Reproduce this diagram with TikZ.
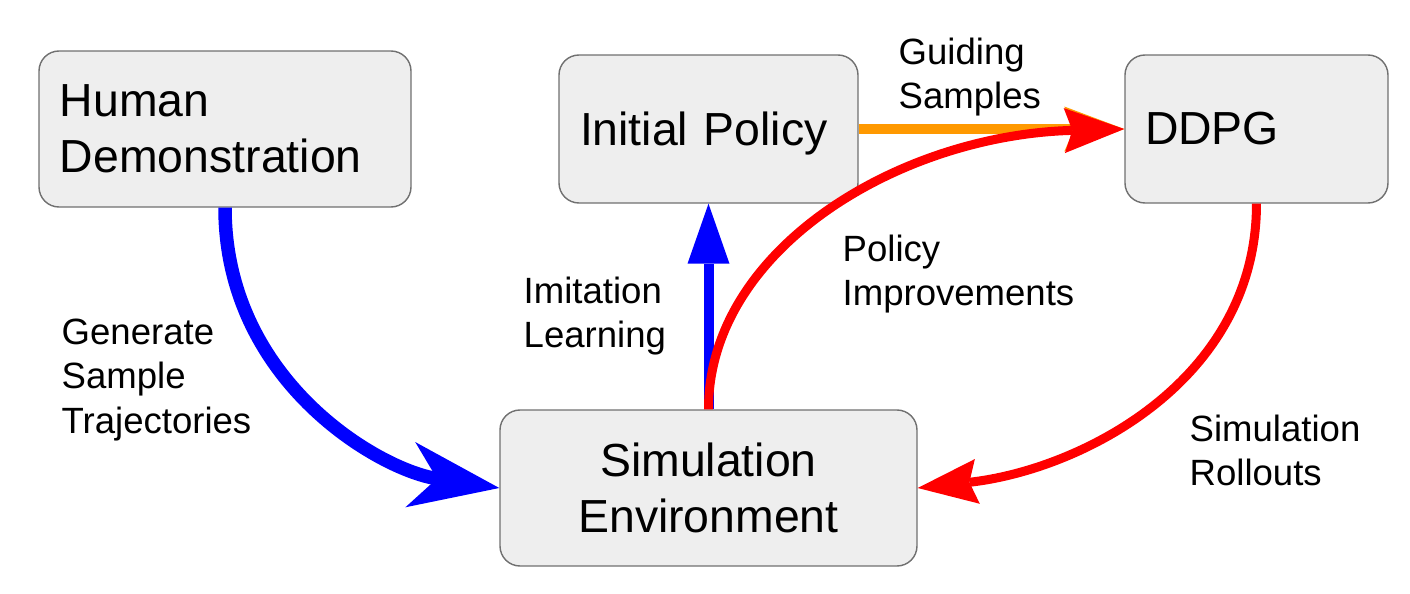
\documentclass[tikz,border=0pt]{standalone}
\usepackage{fontspec}
\setmainfont{Liberation Sans}
\usepackage{tikz}
\usetikzlibrary{arrows.meta, positioning}
\definecolor{boxfill}{HTML}{EEEEEE}
\definecolor{boxline}{HTML}{707070}
\definecolor{guideorange}{HTML}{FF9900}

\begin{document}
\begin{tikzpicture}[node distance=2cm,
  box/.style={draw=boxline, fill=boxfill, rounded corners=0.2cm, line width=0.4pt, font=\fontsize{13.2}{15.9}\selectfont},
  lbl/.style={anchor=north west, inner sep=0pt, align=left, font=\fontsize{10.4}{12.7}\selectfont},
  demo/.style={line width=0.135cm, blue, -{Stealth[length=0.9cm, width=0.66cm, inset=0.27cm, line width=0pt]}},
  imit/.style={line width=0.1cm, blue, -{Triangle[length=0.6cm, width=0.42cm, line width=0pt]}},
  guide/.style={line width=0.095cm, guideorange, -{Stealth[length=0.6cm, width=0.45cm, inset=0.1cm, line width=0pt]}},
  loopred/.style={line width=0.09cm, red, -{Stealth[length=0.6cm, width=0.45cm, inset=0.08cm, line width=0pt]}}
]
\useasboundingbox (0,0) rectangle (14.1,5.94);

\node (HD) [box, text width=3.30cm, align=left, inner xsep=0.21cm, minimum height=1.56cm] at (2.25,4.65) {Human\\Demonstration};
\node (IP) [right of=HD, xshift=2.835cm, box, text width=2.57cm, align=left, inner xsep=0.21cm, minimum height=1.48cm] {\raisebox{0pt}[\height][0pt]{Initial Policy}};
\node (DD) [right of=IP, xshift=3.48cm, box, text width=2.23cm, align=left, inner xsep=0.20cm, minimum height=1.48cm] {DDPG};
\node (SE) [below of=IP, yshift=-1.59cm, box, align=center, minimum width=4.17cm, minimum height=1.56cm] {Simulation\\Environment};

\node (GS) [lbl] at (0.61,2.76) {Generate\\Sample\\Trajectories};
\node (GU) [lbl] at (8.98,5.57) {Guiding\\Samples};
\node (IL) [lbl] at (5.23,3.18) {Imitation\\Learning};
\node (PI) [lbl] at (8.42,3.60) {Policy\\Improvements};
\node (SR) [lbl] at (11.89,1.80) {Simulation\\Rollouts};

\draw [demo] (HD.south) .. controls +(0,-1.73) and +(-1.2,0.18) .. (SE.west);
\draw [imit] (SE.north) -- (IP.south);
\draw [guide] (IP.east) -- (DD.west);
\draw [loopred] (SE.north) .. controls +(0,1.6) and +(-2.25,-0.06) .. (DD.west);
\draw [loopred] (DD.south) .. controls +(0,-1.77) and +(1.63,0.18) .. (SE.east);
\end{tikzpicture}
\end{document}
